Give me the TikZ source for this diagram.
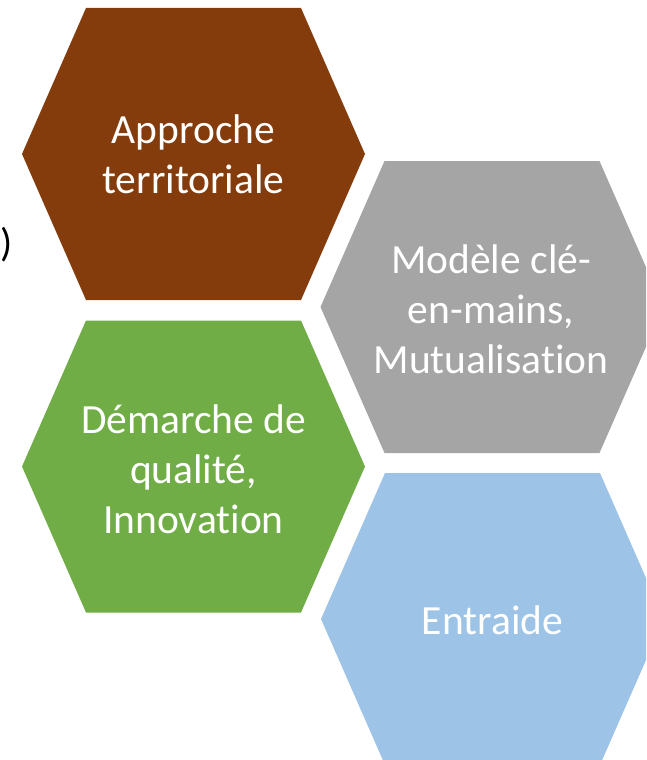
\documentclass[tikz,border=0pt]{standalone}
\usepackage{fontspec}
\setmainfont{Carlito}[RawFeature=-liga,RawFeature=-clig,RawFeature=-calt,RawFeature=-dlig]
\definecolor{hbrown}{HTML}{843C0C}
\definecolor{hgray}{HTML}{A5A5A5}
\definecolor{hgreen}{HTML}{70AD47}
\definecolor{hblue}{HTML}{9DC3E6}
\tikzset{
  hexlabel/.style={text=white, align=center, font=\fontsize{41.5}{50}\selectfont, inner sep=0pt},
  paren/.style={text=black, font=\fontsize{40}{48}\selectfont, inner sep=0pt}
}
\newcommand\hexagonat[3]{% center, colour
  \fill[#3] ([shift={(-171.5,0)}]#1,#2) -- ([shift={(-107.5,-146)}]#1,#2) -- ([shift={(107.5,-146)}]#1,#2)
    -- ([shift={(171.5,0)}]#1,#2) -- ([shift={(107.5,146)}]#1,#2) -- ([shift={(-107.5,146)}]#1,#2) -- cycle;}
\begin{document}
\begin{tikzpicture}[x=1pt,y=-1pt]
\useasboundingbox (0,0) rectangle (646,760);
\clip (0,0) rectangle (646,760);
\hexagonat{193.5}{154}{hbrown}
\hexagonat{492}{307}{hgray}
\hexagonat{193.5}{466.5}{hgreen}
\hexagonat{492.5}{619}{hblue}
\node[hexlabel] (t1) at (193.5,154) {Approche\\territoriale};
\node[hexlabel] (t2) at (491,309) {Modèle clé-\\en-mains,\\Mutualisation};
\node[hexlabel] (t3) at (193.5,469) {Démarche de\\qualité,\\Innovation};
\node[hexlabel] (t4) at (492.5,620) {Entraide};
\node[paren] (p) at (7,245) {)};
\end{tikzpicture}
\end{document}
